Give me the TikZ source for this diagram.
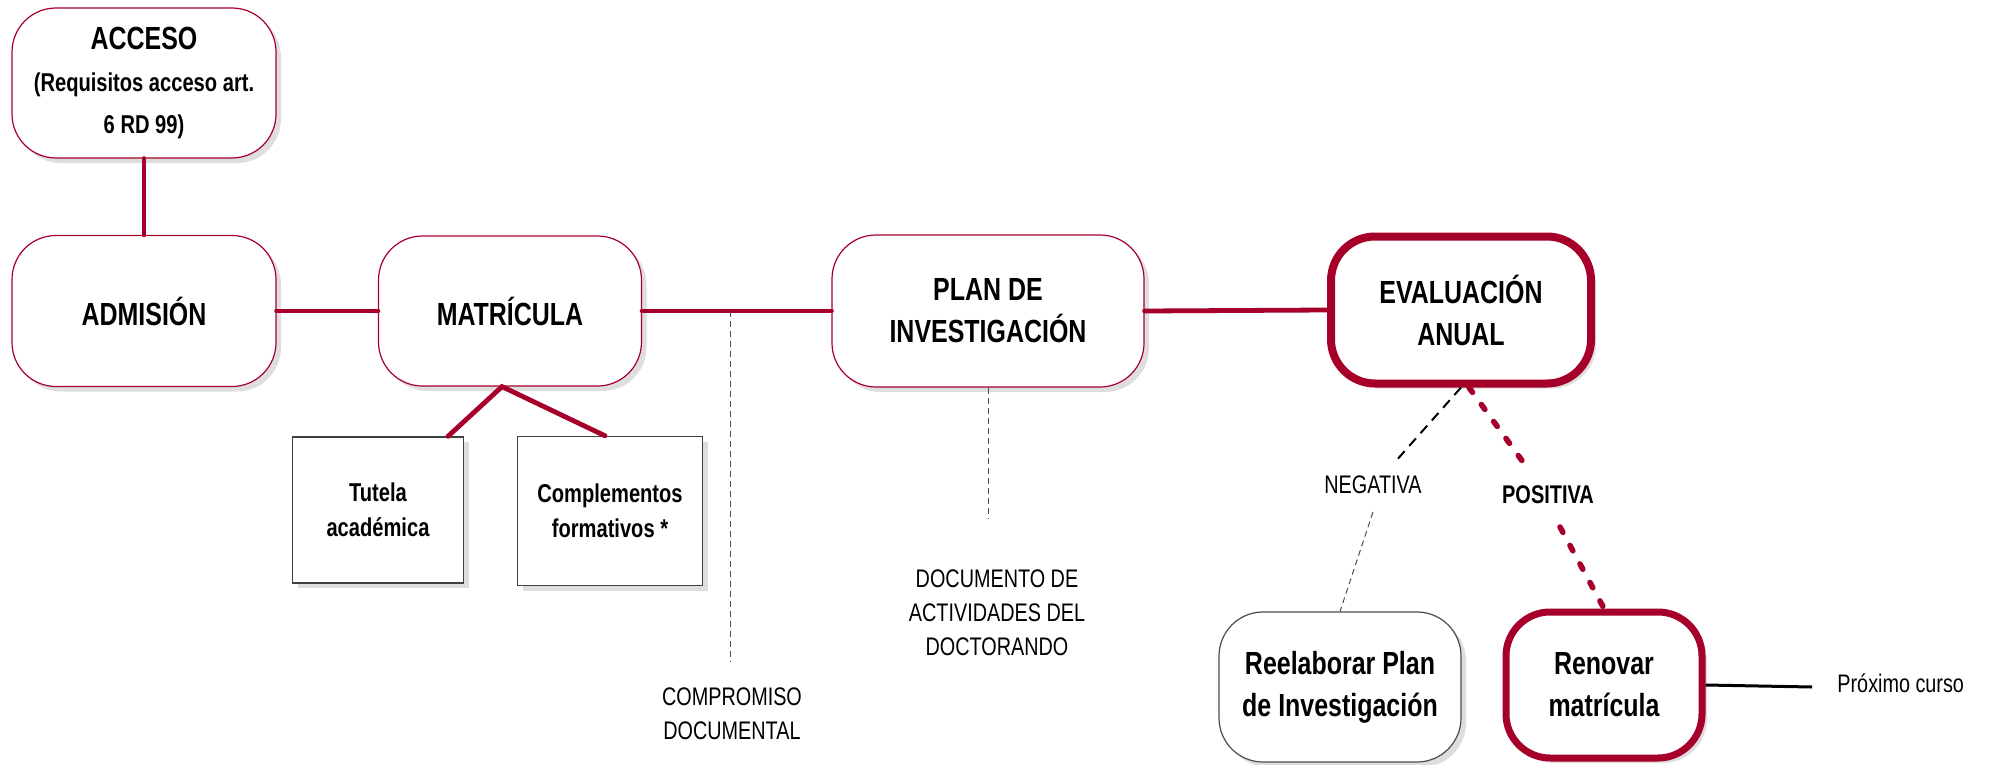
\documentclass[tikz,border=0pt]{standalone}
\usepackage{fontspec}
\setmainfont{Liberation Sans}[FakeStretch=0.78]
\usetikzlibrary{shadows}
\definecolor{granate}{HTML}{A6002A}

\begin{document}
\begin{tikzpicture}[x=0.5pt,y=-0.5pt,
  sombra/.style={drop shadow={shadow xshift=2.5pt,shadow yshift=-2.5pt,fill=black!13,opacity=1}},
  caja/.style={draw=granate,line width=0.6pt,rounded corners=22pt,fill=white,sombra,
    align=center,inner sep=0pt,font=\fontsize{16}{21}\selectfont\bfseries},
  cajafuerte/.style={caja,line width=4pt},
  cuadro/.style={draw=black!75,line width=0.7pt,fill=white,sombra,align=center,
    inner sep=0pt,font=\fontsize{12.9}{17.5}\selectfont\bfseries},
  etiqueta/.style={align=center,inner sep=0pt,font=\fontsize{12.7}{17}\selectfont},
  enlace/.style={draw=granate,line width=2.4pt,line cap=round},
  guia/.style={draw=black!70,line width=0.5pt,dash pattern=on 3pt off 2pt},
  negativo/.style={draw=black,line width=1pt,dash pattern=on 5pt off 3.5pt},
  positivo/.style={draw=granate,line width=2.8pt,line cap=round,dash pattern=on 3pt off 7.5pt}]
\useasboundingbox (0,0) rectangle (1991,765);
%boxes
\node[caja,minimum width=132pt,minimum height=75pt] (acceso) at (144,83)
  {ACCESO\\\fontsize{12.9}{20}\selectfont(Requisitos acceso art.\\\fontsize{12.9}{20}\selectfont6 RD 99)};
\node[caja,minimum width=132pt,minimum height=75.5pt] (admision) at (144,311) {ADMISIÓN};
\node[caja,minimum width=131.5pt,minimum height=75pt] (matricula) at (510,311) {MATRÍCULA};
\node[caja,minimum width=156pt,minimum height=76pt] (plan) at (988,311) {PLAN DE\\INVESTIGACIÓN};
\node[cajafuerte,minimum width=130pt,minimum height=73.5pt] (evaluacion) at (1461,310) {EVALUACIÓN\\ANUAL};
\node[cuadro,minimum width=85.5pt,minimum height=73pt] (tutela) at (378,510) {Tutela\\académica};
\node[cuadro,minimum width=92.5pt,minimum height=74.5pt] (complementos) at (610,511) {Complementos\\formativos *};
\node[caja,draw=black!70,minimum width=121pt,minimum height=75pt] (reelaborar) at (1340,687)
  {Reelaborar Plan\\de Investigación};
\node[caja,line width=3.5pt,minimum width=98pt,minimum height=73pt] (renovar) at (1604,685) {Renovar\\matrícula};
%labels
\node[etiqueta] (compromiso) at (732,714) {COMPROMISO\\DOCUMENTAL};
\node[etiqueta] (documento) at (997,613) {DOCUMENTO DE\\ACTIVIDADES DEL\\DOCTORANDO};
\node[etiqueta] (negativa) at (1373,485) {NEGATIVA};
\node[etiqueta,font=\fontsize{12.8}{17}\selectfont\bfseries] (positiva) at (1548,495) {POSITIVA};
\node[etiqueta,anchor=west] (proximo) at (1837,683) {Próximo curso};
%free ends
\coordinate (cruce) at (730,311);
\coordinate (cruceFin) at (730,662);
\coordinate (planFin) at (988,518);
\coordinate (negFin) at (1395,462);
\coordinate (negIni) at (1373,512);
\coordinate (posFin) at (1523,462);
\coordinate (posIni) at (1560,527);
\coordinate (proxFin) at (1812,687);
%connectors
\draw[enlace] (acceso.south) -- (admision.north);
\draw[enlace] (admision.east) -- (matricula.west);
\draw[enlace] (matricula.east) -- (plan.west);
\draw[enlace] (plan.east) -- (evaluacion.west);
\draw[enlace] ([xshift=35pt]tutela.north) -- ([xshift=-4pt]matricula.south) -- ([xshift=-2.5pt]complementos.north);
\draw[guia] (cruce) -- (cruceFin);
\draw[guia] (plan.south) -- (planFin);
\draw[negativo] (evaluacion.south) -- (negFin);
\draw[guia] (negIni) -- (reelaborar.north);
\draw[positivo] ([xshift=4pt]evaluacion.south) -- (posFin);
\draw[positivo] (posIni) -- (renovar.north);
\draw[line width=1.5pt] (renovar.east) -- (proxFin);
\end{tikzpicture}
\end{document}
